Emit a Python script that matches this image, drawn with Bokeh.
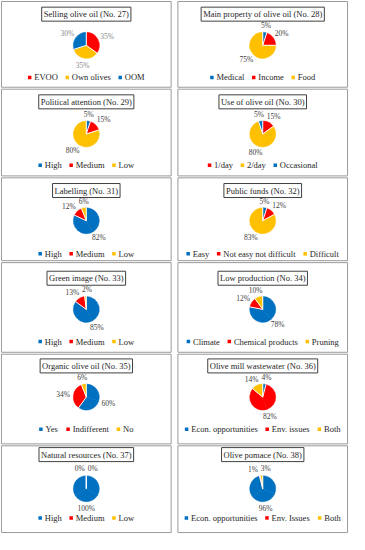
import math
from bokeh.plotting import figure
from bokeh.models import ColumnDataSource, Label, Range1d
from bokeh.core.properties import value
from bokeh.embed import file_html
from bokeh.resources import INLINE

# ---------------- data ----------------
titles = [
    "Selling olive oil (No. 27)",
    "Main property of olive oil (No. 28)",
    "Political attention (No. 29)",
    "Use of olive oil (No. 30)",
    "Labelling (No. 31)",
    "Public funds (No. 32)",
    "Green image (No. 33)",
    "Low production (No. 34)",
    "Organic olive oil (No. 35)",
    "Olive mill wastewater (No. 36)",
    "Natural resources (No. 37)",
    "Olive pomace (No. 38)",
]
categories = [
    ["EVOO", "Own olives", "OOM"],
    ["Medical", "Income", "Food"],
    ["High", "Medium", "Low"],
    ["1/day", "2/day", "Occasional"],
    ["High", "Medium", "Low"],
    ["Easy", "Not easy not difficult", "Difficult"],
    ["High", "Medium", "Low"],
    ["Climate", "Chemical products", "Pruning"],
    ["Yes", "Indifferent", "No"],
    ["Econ. opportunities", "Env. issues", "Both"],
    ["High", "Medium", "Low"],
    ["Econ. opportunities", "Env. Issues", "Both"],
]
values = [
    [35, 35, 30],
    [5, 20, 75],
    [5, 15, 80],
    [15, 80, 5],
    [82, 12, 6],
    [5, 12, 83],
    [85, 13, 2],
    [78, 12, 10],
    [60, 34, 6],
    [4, 82, 14],
    [100, 0, 0],
    [96, 1, 3],
]

# ---------------- styles ----------------
BLUE, RED, YEL = "#0070C0", "#FF0000", "#FFC000"
slice_colors = [
    [RED, YEL, BLUE], [BLUE, RED, YEL], [BLUE, RED, YEL], [RED, YEL, BLUE],
    [BLUE, RED, YEL], [BLUE, RED, YEL], [BLUE, RED, YEL], [BLUE, RED, YEL],
    [BLUE, RED, YEL], [BLUE, RED, YEL], [BLUE, RED, YEL], [BLUE, RED, YEL],
]
label_colors = ["#8a8a8a"] + ["#404040"] * 11
FONT = "Liberation Serif"
TXT = "#262626"

# ---------------- layout (reference pixel space, y downward) ----------------
X0, X1 = 1, 363
Y0, Y1 = 1, 549
FIG_W, FIG_H = 349, 534
SX = (X1 - X0) / FIG_W
col_x = [(2, 178), (185, 361)]
row_top = [2, 92, 183, 270, 364, 458]
row_bot = [90, 181, 268, 362, 456, 547]
title_y = [15, 105, 196, 286, 376, 467]
pie_y = [47, 138, 227, 318, 408, 502]
legend_y = [80, 170, 261, 351, 441, 532]
R_SCREEN = 13
R = R_SCREEN * SX
TITLE_SIZE, LEG_SIZE, LAB_SIZE = 8.5, 8.5, 7.5

TW = {' ': 250, '.': 250, '(': 333, ')': 333, '/': 278, '%': 833,
      'a': 444, 'b': 500, 'c': 444, 'd': 500, 'e': 444, 'f': 333, 'g': 500, 'h': 500,
      'i': 278, 'j': 278, 'k': 500, 'l': 278, 'm': 778, 'n': 500, 'o': 500, 'p': 500,
      'q': 500, 'r': 333, 's': 389, 't': 278, 'u': 500, 'v': 500, 'w': 722, 'x': 500,
      'y': 500, 'z': 444, 'A': 722, 'B': 667, 'C': 667, 'D': 722, 'E': 611, 'F': 556,
      'G': 722, 'H': 722, 'I': 333, 'J': 389, 'K': 722, 'L': 611, 'M': 889, 'N': 722,
      'O': 722, 'P': 556, 'Q': 722, 'R': 667, 'S': 556, 'T': 611, 'U': 722, 'V': 722,
      'W': 944, 'X': 722, 'Y': 722, 'Z': 611}


def text_w(s, size):
    return sum(TW.get(c, 500) for c in s) / 1000.0 * size * SX


def Y(y):
    return -y


p = figure(width=FIG_W, height=FIG_H, output_backend="svg", toolbar_location=None,
           x_range=Range1d(X0, X1), y_range=Range1d(-Y1, -Y0),
           min_border=0, outline_line_color=None)
p.axis.visible = False
p.grid.visible = False
p.background_fill_color = "white"

# panel borders
bl, br, bt, bb = [], [], [], []
for r in range(6):
    for c in range(2):
        bl.append(col_x[c][0]); br.append(col_x[c][1])
        bt.append(Y(row_top[r])); bb.append(Y(row_bot[r]))
p.quad(left=bl, right=br, top=bt, bottom=bb, fill_color=None,
       line_color="#9a9a9a", line_width=1)

wedge = dict(x=[], y=[], s=[], e=[], color=[])
sep = dict(x=[], y=[], angle=[])
lab = dict(x=[], y=[], text=[], color=[])
leg_sq = dict(x=[], y=[], color=[])
leg_tx = dict(x=[], y=[], text=[])

for k in range(12):
    r, c = divmod(k, 2)
    cx = (col_x[c][0] + col_x[c][1]) / 2.0
    cy = pie_y[r]
    vals = values[k]
    total = float(sum(vals))

    # title
    p.add_layout(Label(x=cx, y=Y(title_y[r]), text=titles[k], text_align="center",
                       text_baseline="middle", text_font=FONT, text_font_size=f"{TITLE_SIZE}px",
                       text_color=TXT, border_line_color="#404040", border_line_width=1,
                       background_fill_color="white", padding=2))

    # wedges and labels
    cum = 0.0
    pos = []
    for i, v in enumerate(vals):
        a0 = cum / total * 2 * math.pi
        cum += v
        a1 = cum / total * 2 * math.pi
        if v > 0:
            n = max(1, math.ceil((a1 - a0) / (math.pi * 0.9)))
            for j in range(n):
                b0 = a0 + (a1 - a0) * j / n
                b1 = a0 + (a1 - a0) * (j + 1) / n
                wedge["x"].append(cx); wedge["y"].append(Y(cy))
                wedge["s"].append(math.pi / 2 - b1); wedge["e"].append(math.pi / 2 - b0)
                wedge["color"].append(slice_colors[k][i])
        sep["x"].append(cx); sep["y"].append(Y(cy)); sep["angle"].append(math.pi / 2 - a0)
        mid = (a0 + a1) / 2.0
        dx, dy = math.sin(mid), -math.cos(mid)
        t = f"{v}%"
        w = text_w(t, LAB_SIZE)
        h = 7.0
        lx = cx + dx * (R + 3.5) + dx * w / 2
        ly = cy + dy * (R + 3.5) + dy * h / 2
        pos.append([lx, ly, w, t])
    # resolve overlapping labels horizontally (earlier slice stays on the left)
    for _ in range(4):
        for a in range(len(pos)):
            for b in range(a + 1, len(pos)):
                pa, pb = pos[a], pos[b]
                need = (pa[2] + pb[2]) / 2 + 3
                if abs(pa[1] - pb[1]) < 8 and abs(pa[0] - pb[0]) < need:
                    m = (pa[0] + pb[0]) / 2
                    if pa[0] <= pb[0]:
                        pa[0], pb[0] = m - need / 2, m + need / 2
                    else:
                        pa[0], pb[0] = m + need / 2, m - need / 2
    for lx, ly, w, t in pos:
        lab["x"].append(lx); lab["y"].append(Y(ly)); lab["text"].append(t)
        lab["color"].append(label_colors[k])

    # legend
    SQ, GAP1, GAP2 = 3.5, 3.0, 8.0
    widths = [text_w(s, LEG_SIZE) for s in categories[k]]
    total_w = sum(SQ + GAP1 + tw for tw in widths) + GAP2 * (len(widths) - 1)
    x = cx - total_w / 2
    for i, s in enumerate(categories[k]):
        leg_sq["x"].append(x + SQ / 2); leg_sq["y"].append(Y(legend_y[r]))
        leg_sq["color"].append(slice_colors[k][i])
        leg_tx["x"].append(x + SQ + GAP1); leg_tx["y"].append(Y(legend_y[r]))
        leg_tx["text"].append(s)
        x += SQ + GAP1 + widths[i] + GAP2

p.wedge(x="x", y="y", radius=R_SCREEN, radius_units="screen", start_angle="s", end_angle="e",
        direction="anticlock", fill_color="color", line_color="color", line_width=0.5,
        source=ColumnDataSource(wedge))
p.ray(x="x", y="y", angle="angle", length=R_SCREEN + 0.5, length_units="screen",
      line_color="white", line_width=1, source=ColumnDataSource(sep))
p.text(x="x", y="y", text="text", text_color="color", text_font=value(FONT),
       text_font_size=f"{LAB_SIZE}px", text_align="center", text_baseline="middle",
       source=ColumnDataSource(lab))
p.scatter(x="x", y="y", marker="square", size=3.5, fill_color="color", line_color=None,
          source=ColumnDataSource(leg_sq))
p.text(x="x", y="y", text="text", text_color=TXT, text_font=value(FONT),
       text_font_size=f"{LEG_SIZE}px", text_align="left", text_baseline="middle",
       source=ColumnDataSource(leg_tx))

open("out.html", "w").write(file_html(p, INLINE))
